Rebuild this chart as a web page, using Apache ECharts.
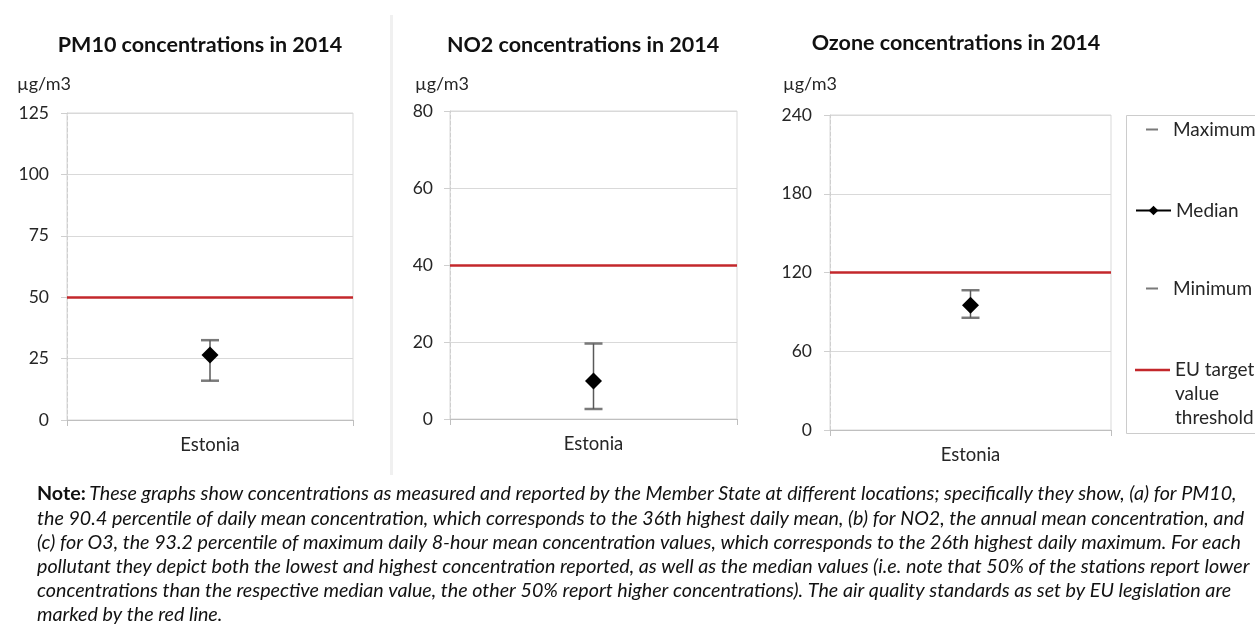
<!DOCTYPE html>
<html>
<head>
<meta charset="utf-8">
<style>
  html, body { margin: 0; padding: 0; background: #fff; }
  #chart { width: 1255px; height: 627px; }
</style>
<script src="https://cdn.jsdelivr.net/npm/echarts@6/dist/echarts.min.js"></script>
</head>
<body>
<div id="chart"></div>
<script>
// ---- data ----
const categories = ['Estonia'];
const panelTitles = ['PM10 concentrations in 2014', 'NO2 concentrations in 2014', 'Ozone concentrations in 2014'];
const unitLabel = 'µg/m3';
const pm10Min = [16], pm10Median = [26.5], pm10Max = [32.5];
const no2Min = [2.6], no2Median = [9.9], no2Max = [19.6];
const o3Min = [85.5], o3Median = [95], o3Max = [106.5];
const thresholds = [50, 40, 120];
const yMaxes = [125, 80, 240];
const yIntervals = [25, 20, 60];
const legendNames = ['Maximum', 'Median', 'Minimum', 'EU target value threshold'];
const noteLines = [
  'These graphs show concentrations as measured and reported by the Member State at different locations; specifically they show, (a) for PM10,',
  'the 90.4 percentile of daily mean concentration, which corresponds to the 36th highest daily mean, (b) for NO2, the annual mean concentration, and',
  '(c) for O3, the 93.2 percentile of maximum daily 8-hour mean concentration values, which corresponds to the 26th highest daily maximum. For each',
  'pollutant they depict both the lowest and highest concentration reported, as well as the median values (i.e. note that 50% of the stations report lower',
  'concentrations than the respective median value, the other 50% report higher concentrations). The air quality standards as set by EU legislation are',
  'marked by the red line.'
];

const mins = [pm10Min, no2Min, o3Min];
const medians = [pm10Median, no2Median, o3Median];
const maxs = [pm10Max, no2Max, o3Max];

// ---- layout ----
const FONT = 'Lato';
const grids = [
  { left: 67, top: 113, width: 286, height: 307 },
  { left: 450, top: 111, width: 287, height: 308 },
  { left: 830, top: 115, width: 281, height: 315 }
];
const titleCenters = [200, 583, 956];
const titleY = [45, 45, 43];
const unitX = [17, 415, 783];
const labelMargins = [18, 17, 18];
const RED = '#c3272b';
const BAR = '#595959';

const xAxes = grids.map((g, i) => ({
  type: 'category', gridIndex: i, data: categories,
  axisLine: { show: true, lineStyle: { color: '#bfbfbf', width: 1 } },
  axisTick: { show: true, length: 6, lineStyle: { color: '#bfbfbf' } },
  axisLabel: { color: '#262626', fontSize: 18.5, fontFamily: FONT, margin: 16 },
  splitLine: { show: false }
}));
const yAxes = grids.map((g, i) => ({
  type: 'value', gridIndex: i, min: 0, max: yMaxes[i], interval: yIntervals[i],
  axisLine: { show: true, lineStyle: { color: '#cfcfcf', type: 'dashed', width: 1 } },
  axisTick: { show: true, length: 6, lineStyle: { color: '#cfcfcf' } },
  axisLabel: { color: '#262626', fontSize: 17.5, fontFamily: FONT, margin: labelMargins[i] },
  splitLine: { show: true, lineStyle: { color: '#d9d9d9', width: 1 } }
}));

const series = [];
grids.forEach((g, i) => {
  series.push({
    type: 'custom', xAxisIndex: i, yAxisIndex: i, silent: true,
    data: categories.map((c, j) => [j, mins[i][j], maxs[i][j]]),
    encode: { x: 0, y: [1, 2] },
    renderItem: function (params, api) {
      const x = api.value(0);
      const lo = api.coord([x, api.value(1)]);
      const hi = api.coord([x, api.value(2)]);
      return { type: 'line', shape: { x1: lo[0], y1: lo[1], x2: hi[0], y2: hi[1] },
               style: { stroke: BAR, lineWidth: 1.5 } };
    },
    z: 2
  });
  series.push({
    name: 'Maximum', type: 'scatter', xAxisIndex: i, yAxisIndex: i, data: maxs[i],
    symbol: 'rect', symbolSize: [18, 2.5], itemStyle: { color: BAR }, silent: true, z: 3
  });
  series.push({
    name: 'Minimum', type: 'scatter', xAxisIndex: i, yAxisIndex: i, data: mins[i],
    symbol: 'rect', symbolSize: [18, 2.5], itemStyle: { color: BAR }, silent: true, z: 3
  });
  series.push({
    name: 'Median', type: 'line', xAxisIndex: i, yAxisIndex: i, data: medians[i],
    symbol: 'diamond', symbolSize: 17, showSymbol: true,
    itemStyle: { color: '#000' }, lineStyle: { color: '#000', width: 2.5 }, silent: true, z: 4
  });
  series.push({
    name: 'EU target value threshold', type: 'line', xAxisIndex: i, yAxisIndex: i, data: [],
    itemStyle: { color: RED }, lineStyle: { color: RED, width: 2.5 },
    markLine: {
      silent: true, symbol: ['none', 'none'], label: { show: false },
      lineStyle: { color: RED, width: 2.5, type: 'solid' },
      emphasis: { disabled: true },
      data: [{ yAxis: thresholds[i] }]
    },
    z: 1
  });
});

const legendText = { color: '#262626', fontSize: 19, fontFamily: FONT };
const legends = [
  { data: [legendNames[0]], left: 1146, top: 120, itemWidth: 12, itemHeight: 2,
    icon: 'path://M0,0H12V2H0Z', textStyle: Object.assign({ padding: [0, 0, 0, 10] }, legendText) },
  { data: [legendNames[1]], left: 1135, top: 201, itemWidth: 35, itemHeight: 12, textStyle: legendText },
  { data: [legendNames[2]], left: 1146, top: 279, itemWidth: 12, itemHeight: 2,
    icon: 'path://M0,0H12V2H0Z', textStyle: Object.assign({ padding: [0, 0, 0, 10] }, legendText) },
  { data: [legendNames[3]], left: 1135, top: 358, itemWidth: 35, itemHeight: 72,
    icon: 'path://M0,0L0.01,0L0,0.01Z M0,10.8L35,10.8L35,13.3L0,13.3Z M0,72L0.01,72L0,71.99Z',
    formatter: function () { return 'EU target\nvalue\nthreshold'; },
    textStyle: Object.assign({ lineHeight: 24 }, legendText) }
].map(l => Object.assign({ orient: 'vertical', selectedMode: false, itemGap: 0, padding: 0 }, l));

const graphics = [];
// faint panel separator
graphics.push({ type: 'rect', shape: { x: 390, y: 15, width: 3, height: 460 }, style: { fill: '#f0f0f0' }, silent: true });
// legend box
graphics.push({ type: 'rect', shape: { x: 1126.5, y: 115.5, width: 200, height: 318 },
  style: { fill: 'none', stroke: '#cccccc', lineWidth: 1 }, silent: true });
panelTitles.forEach((t, i) => {
  graphics.push({ type: 'text', x: titleCenters[i], y: titleY[i],
    style: { text: t, fill: '#111', font: 'bold 21.5px ' + FONT, textAlign: 'center', textVerticalAlign: 'middle' } });
  graphics.push({ type: 'text', x: unitX[i], y: 84,
    style: { text: unitLabel, fill: '#262626', font: '18px ' + FONT, textAlign: 'left', textVerticalAlign: 'middle' } });
});
noteLines.forEach((line, k) => {
  const y = 494 + k * 24.2;
  if (k === 0) {
    graphics.push({ type: 'text', x: 37, y: y,
      style: { text: '{b|Note:} {i|' + line + '}', textVerticalAlign: 'middle',
        rich: { b: { font: 'bold 19.7px ' + FONT, fill: '#111' }, i: { font: 'italic 19.7px ' + FONT, fill: '#111' } } } });
  } else {
    graphics.push({ type: 'text', x: 37, y: y,
      style: { text: line, fill: '#111', font: 'italic 19.7px ' + FONT, textVerticalAlign: 'middle' } });
  }
});

const chart = echarts.init(document.getElementById('chart'), null, { renderer: 'canvas' });
chart.setOption({
  backgroundColor: '#ffffff',
  animation: false,
  grid: grids.map(g => Object.assign({ show: true, borderColor: '#d9d9d9', borderWidth: 1, backgroundColor: 'transparent' }, g)),
  xAxis: xAxes,
  yAxis: yAxes,
  legend: legends,
  series: series,
  graphic: graphics
});
</script>
</body>
</html>
